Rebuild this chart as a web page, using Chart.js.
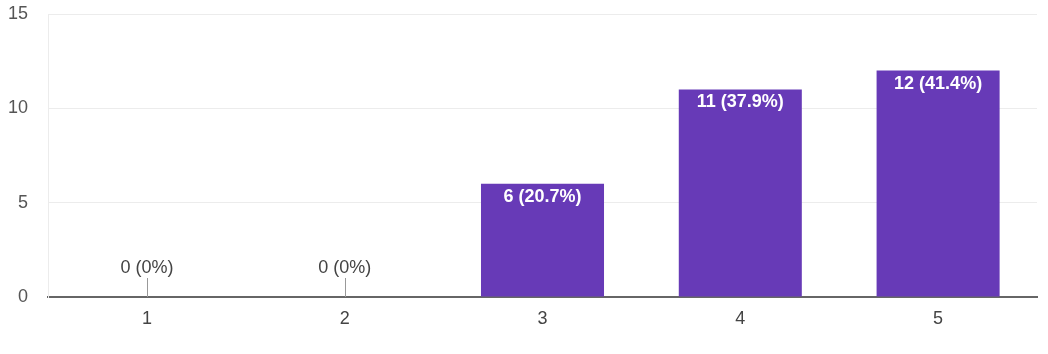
<!DOCTYPE html>
<html><head><meta charset="utf-8">
<script src="https://cdn.jsdelivr.net/npm/chart.js@4/dist/chart.umd.min.js"></script>
<style>html,body{margin:0;padding:0;background:#fff}#wrap{width:1048px;height:354px}</style>
</head><body><div id="wrap"><canvas id="c" width="1048" height="354"></canvas></div>
<script>
const categories = ['1','2','3','4','5'];
const counts = [0, 0, 6, 11, 12];
const barLabels = ['0 (0%)','0 (0%)','6 (20.7%)','11 (37.9%)','12 (41.4%)'];
const yTicks = [0, 5, 10, 15];

const FONT = '"Liberation Sans", Arial, sans-serif';

const labelPlugin = {
  id: 'barLabels',
  afterDatasetsDraw(chart) {
    const ctx = chart.ctx;
    const meta = chart.getDatasetMeta(0);
    const yScale = chart.scales.y;
    ctx.save();
    ctx.textAlign = 'center';
    ctx.textBaseline = 'middle';
    meta.data.forEach((bar, i) => {
      const v = counts[i];
      if (v === 0) {
        const base = yScale.getPixelForValue(0);
        ctx.strokeStyle = '#999';
        ctx.lineWidth = 1;
        ctx.beginPath();
        ctx.moveTo(Math.round(bar.x) + 0.5, base - 19);
        ctx.lineTo(Math.round(bar.x) + 0.5, base);
        ctx.stroke();
        ctx.fillStyle = '#444';
        ctx.font = '18px ' + FONT;
        ctx.fillText(barLabels[i], bar.x, base - 29);
      } else {
        ctx.fillStyle = '#ffffff';
        ctx.font = 'bold 18px ' + FONT;
        ctx.fillText(barLabels[i], bar.x, bar.y + 13);
      }
    });
    ctx.restore();
  }
};

new Chart(document.getElementById('c'), {
  type: 'bar',
  data: {
    labels: categories,
    datasets: [{
      data: counts,
      backgroundColor: '#673ab7',
      borderWidth: 0,
      barPercentage: 0.622,
      categoryPercentage: 1.0
    }]
  },
  options: {
    responsive: false,
    animation: false,
    devicePixelRatio: 1,
    layout: { padding: { top: 14, right: 11, left: 0, bottom: 0 } },
    plugins: { legend: { display: false }, tooltip: { enabled: false } },
    scales: {
      x: {
        grid: { display: false, drawTicks: false },
        border: { color: '#666', width: 2 },
        ticks: { color: '#444', padding: 11, font: { size: 18, family: FONT } },
        afterFit(s) { s.height = 57; s.paddingLeft = 0; s.paddingRight = 0; }
      },
      y: {
        min: 0, max: 15,
        afterBuildTicks(s) { s.ticks = yTicks.map(v => ({ value: v })); },
        grid: { color: '#ececec', drawTicks: false },
        border: { color: '#ececec', width: 1 },
        ticks: { color: '#555', padding: 20, font: { size: 18, family: FONT } },
        afterFit(s) { s.width = 48; s.paddingTop = 0; s.paddingBottom = 0; }
      }
    }
  },
  plugins: [labelPlugin]
});
</script>
</body></html>
